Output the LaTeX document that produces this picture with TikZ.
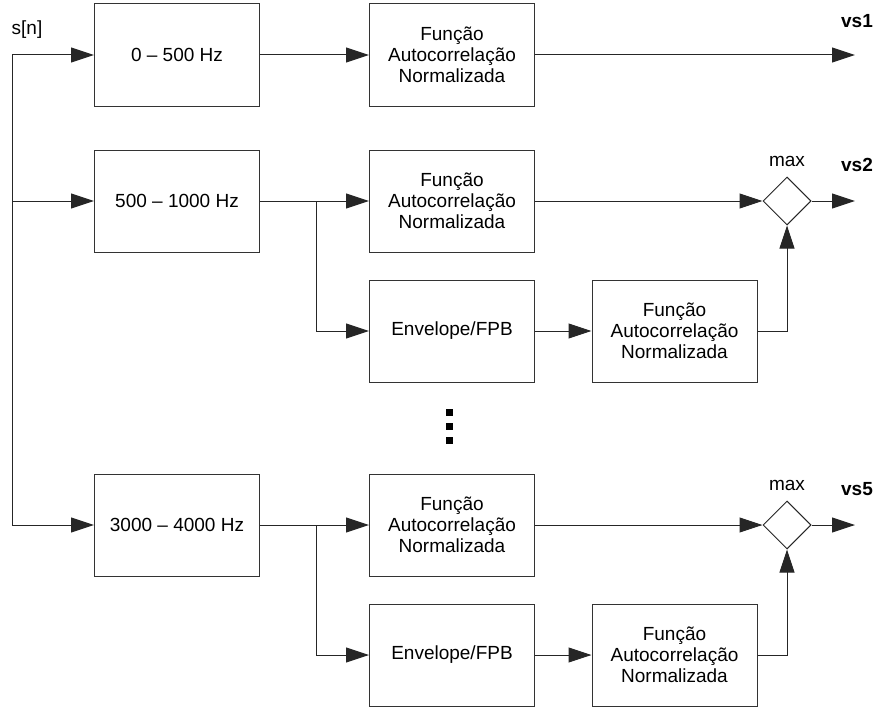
\documentclass[tikz,border=0pt]{standalone}
\usepackage{fontspec}
\setmainfont{Liberation Sans}
\usetikzlibrary{arrows.meta,shapes.geometric}
\begin{document}
\begin{tikzpicture}[x=1pt,y=-1pt,
  blk/.style={draw=black!80, line width=1pt, fill=white, minimum width=165pt,
    minimum height=102pt, align=center, inner sep=0pt,
    font=\fontsize{19}{21}\selectfont},
  dia/.style={draw=black!85, line width=1pt, fill=white, diamond,
    minimum width=48pt, minimum height=48pt, inner sep=0pt},
  con/.style={draw=black!85, line width=1pt},
  arr/.style={con, -{Triangle[length=23pt,width=15pt]}},
  lbl/.style={font=\fontsize{19}{21}\selectfont, inner sep=0pt},
  outl/.style={font=\fontsize{19}{21}\selectfont\bfseries, inner sep=0pt},
  dotsq/.style={fill=black, minimum size=7pt, inner sep=0pt}
]
\useasboundingbox (0,0) rectangle (877,709);

% row 1
\node[blk] (b1) at (177,55) {0 -- 500 Hz};
\node[blk] (f1) at (452,55) {Função\\Autocorrelação\\Normalizada};
% row 2
\node[blk] (b2) at (177,201) {500 -- 1000 Hz};
\node[blk] (f2) at (452,201) {Função\\Autocorrelação\\Normalizada};
\node[blk] (e2) at (452,331) {Envelope/FPB};
\node[blk] (g2) at (674.5,331) {Função\\Autocorrelação\\Normalizada};
\node[dia] (d2) at (787,201) {};
% row 5
\node[blk] (b5) at (177,525) {3000 -- 4000 Hz};
\node[blk] (f5) at (452,525) {Função\\Autocorrelação\\Normalizada};
\node[blk] (e5) at (452,655) {Envelope/FPB};
\node[blk] (g5) at (674.5,655) {Função\\Autocorrelação\\Normalizada};
\node[dia] (d5) at (787,525) {};

% labels
\node[lbl] (sn) at (27,30) {s[n]};
\node[lbl] (max2) at (787,161) {max};
\node[lbl] (max5) at (787,485) {max};
\node[outl] (vs1) at (857,21) {vs1};
\node[outl] (vs2) at (857,165) {vs2};
\node[outl] (vs5) at (857,489) {vs5};

% vertical dots
\node[dotsq] (dt1) at (449.5,412.5) {};
\node[dotsq] (dt2) at (449.5,426.5) {};
\node[dotsq] (dt3) at (449.5,440) {};

% coordinates
\coordinate (s1) at (12,55);
\coordinate (s2) at (12,201);
\coordinate (s5) at (12,525);
\coordinate (j2) at (316,201);
\coordinate (j5) at (316,525);
\coordinate (o1) at (855,55);
\coordinate (o2) at (855,201);
\coordinate (o5) at (855,525);

% input bus
\draw[con] (s1) -- (s5);
\draw[arr] (s1) -- (b1.west);
\draw[arr] (s2) -- (b2.west);
\draw[arr] (s5) -- (b5.west);

% row 1
\draw[arr] (b1.east) -- (f1.west);
\draw[arr] (f1.east) -- (o1);

% row 2
\draw[arr] (b2.east) -- (f2.west);
\draw[arr] (j2) |- (e2.west);
\draw[arr] (f2.east) -- (d2.west);
\draw[arr] (e2.east) -- (g2.west);
\draw[arr] (g2.east) -| (d2.south);
\draw[arr] (d2.east) -- (o2);

% row 5
\draw[arr] (b5.east) -- (f5.west);
\draw[arr] (j5) |- (e5.west);
\draw[arr] (f5.east) -- (d5.west);
\draw[arr] (e5.east) -- (g5.west);
\draw[arr] (g5.east) -| (d5.south);
\draw[arr] (d5.east) -- (o5);
\end{tikzpicture}
\end{document}
